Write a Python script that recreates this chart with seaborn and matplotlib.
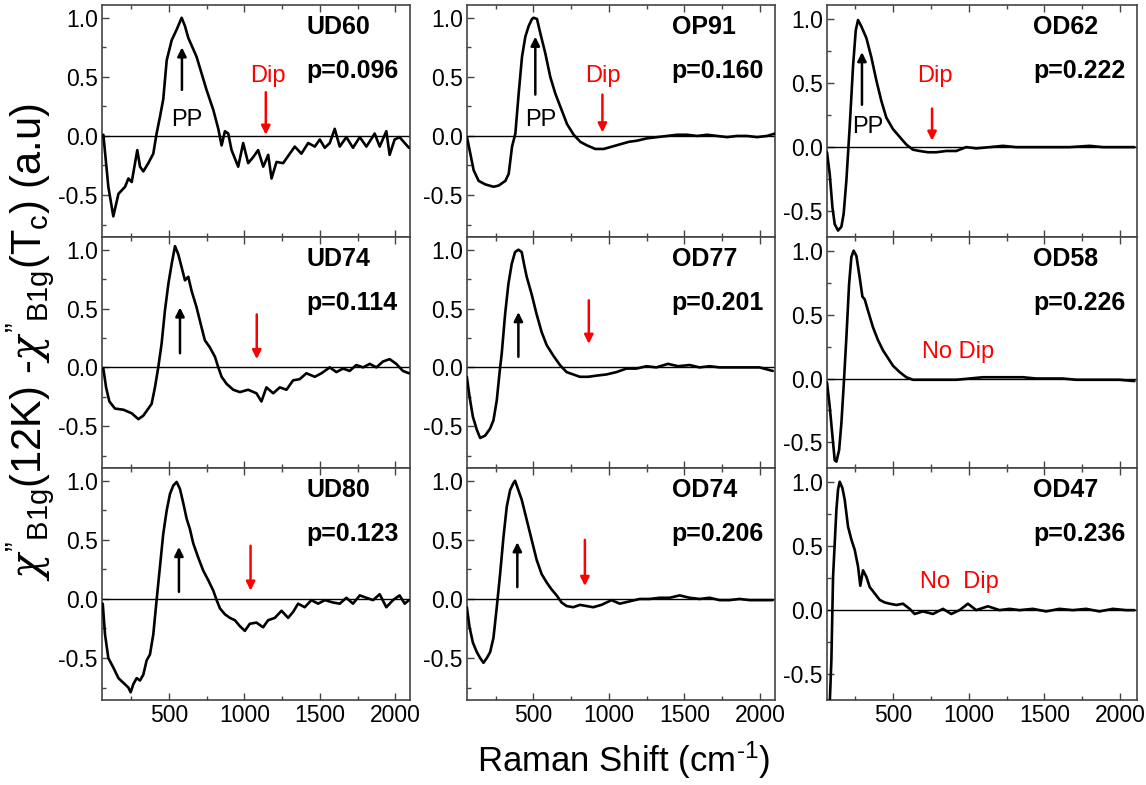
import numpy as np
import pandas as pd
import matplotlib
matplotlib.use("Agg")
import matplotlib.pyplot as plt
import seaborn as sns
from matplotlib.ticker import FixedLocator

# ---------------- data ----------------
ud60_x = [65, 98, 131, 165, 209, 231, 253, 290, 308, 330, 363, 396, 418, 440, 462, 485, 518, 551, 584, 606,
          628, 683, 716, 749, 794, 827, 849, 871, 893, 915, 959, 992, 1025, 1058, 1091, 1125, 1158, 1180, 1213,
          1257, 1301, 1334, 1378, 1423, 1467, 1500, 1533, 1566, 1599, 1632, 1676, 1720, 1765, 1809, 1864, 1897,
          1941, 1963, 1996, 2029, 2063, 2091]
ud60_y = [0.01, -0.43, -0.68, -0.49, -0.43, -0.36, -0.39, -0.12, -0.26, -0.30, -0.23, -0.15, 0.02, 0.16, 0.31,
          0.64, 0.81, 0.90, 1.00, 0.93, 0.83, 0.67, 0.53, 0.39, 0.22, 0.06, -0.08, 0.04, 0.02, -0.12, -0.26,
          -0.06, -0.23, -0.18, -0.12, -0.26, -0.16, -0.36, -0.22, -0.23, -0.15, -0.09, -0.15, -0.06, -0.09,
          -0.03, -0.10, -0.06, 0.06, -0.09, -0.01, -0.10, -0.01, -0.09, 0.02, -0.09, 0.04, -0.16, -0.03, -0.01,
          -0.06, -0.10]

op91_x = [61, 83, 105, 138, 182, 237, 270, 315, 337, 359, 381, 403, 425, 447, 469, 491, 502, 524, 546, 579,
          612, 645, 678, 723, 767, 811, 855, 910, 966, 1021, 1076, 1131, 1186, 1253, 1319, 1385, 1451, 1517,
          1584, 1650, 1716, 1782, 1848, 1914, 1980, 2046, 2098]
op91_y = [-0.01, -0.15, -0.29, -0.38, -0.41, -0.43, -0.42, -0.38, -0.32, -0.09, 0.02, 0.36, 0.67, 0.84, 0.93,
          0.99, 1.00, 0.99, 0.87, 0.70, 0.50, 0.36, 0.25, 0.10, 0.01, -0.05, -0.08, -0.11, -0.11, -0.09, -0.07,
          -0.05, -0.04, -0.02, -0.01, 0.00, 0.01, 0.01, 0.00, 0.01, 0.00, -0.01, 0.00, 0.00, -0.01, 0.00, 0.02]

od62_x = [64, 82, 100, 115, 137, 159, 174, 192, 214, 236, 254, 269, 291, 324, 357, 390, 423, 456, 500, 544,
          588, 632, 676, 731, 786, 852, 918, 984, 1050, 1138, 1226, 1314, 1402, 1490, 1578, 1666, 1798, 1886,
          1996, 2095]
od62_y = [-0.04, -0.21, -0.47, -0.60, -0.65, -0.62, -0.52, -0.26, 0.16, 0.63, 0.91, 0.99, 0.94, 0.85, 0.70,
          0.52, 0.36, 0.23, 0.14, 0.08, 0.02, -0.02, -0.03, -0.04, -0.04, -0.03, -0.03, 0.00, -0.01, 0.00,
          0.01, 0.00, 0.00, 0.00, 0.00, 0.00, 0.01, 0.00, 0.00, 0.00]

ud74_x = [65, 83, 105, 142, 198, 253, 297, 330, 363, 385, 407, 429, 451, 473, 496, 518, 540, 562, 584, 606,
          628, 650, 683, 716, 738, 771, 805, 827, 849, 882, 926, 970, 1025, 1080, 1113, 1146, 1191, 1235, 1279,
          1323, 1367, 1411, 1467, 1511, 1566, 1610, 1654, 1698, 1742, 1787, 1831, 1875, 1919, 1963, 2007, 2051,
          2091]
ud74_y = [-0.01, -0.17, -0.29, -0.35, -0.36, -0.39, -0.44, -0.41, -0.35, -0.31, -0.17, 0.00, 0.20, 0.48,
          0.71, 0.88, 1.03, 0.96, 0.85, 0.74, 0.77, 0.65, 0.51, 0.34, 0.23, 0.17, 0.09, 0.00, -0.08, -0.14,
          -0.19, -0.21, -0.19, -0.22, -0.29, -0.17, -0.22, -0.17, -0.19, -0.11, -0.10, -0.05, -0.08, -0.05,
          0.00, -0.04, -0.01, -0.03, 0.02, 0.00, 0.03, 0.00, 0.05, 0.07, 0.03, -0.03, -0.05]

od77_x = [60, 78, 100, 126, 148, 181, 214, 236, 258, 276, 291, 313, 335, 357, 379, 401, 423, 438, 456, 489,
          522, 555, 588, 632, 676, 720, 764, 808, 863, 918, 984, 1050, 1116, 1182, 1248, 1314, 1391, 1457,
          1534, 1600, 1666, 1732, 1798, 1864, 1930, 1996, 2084]
od77_y = [-0.08, -0.25, -0.42, -0.53, -0.60, -0.58, -0.52, -0.45, -0.28, -0.05, 0.12, 0.45, 0.71, 0.88, 0.98,
          1.00, 0.98, 0.88, 0.77, 0.62, 0.45, 0.30, 0.19, 0.10, 0.02, -0.04, -0.06, -0.08, -0.08, -0.07, -0.06,
          -0.04, -0.01, -0.01, 0.01, 0.00, 0.03, 0.01, 0.02, 0.00, 0.01, 0.00, 0.00, 0.00, 0.00, 0.00, -0.03]

od58_x = [64, 82, 100, 115, 126, 144, 159, 174, 192, 210, 225, 240, 258, 280, 298, 313, 335, 368, 401, 434,
          467, 500, 544, 588, 632, 698, 764, 830, 918, 1006, 1094, 1182, 1270, 1358, 1446, 1534, 1622, 1710,
          1798, 1886, 1996, 2095]
od58_y = [-0.03, -0.22, -0.45, -0.64, -0.65, -0.56, -0.35, -0.06, 0.32, 0.74, 0.95, 1.00, 0.96, 0.79, 0.64,
          0.62, 0.53, 0.40, 0.30, 0.22, 0.16, 0.10, 0.05, 0.01, -0.01, -0.01, -0.01, -0.01, -0.01, 0.00, 0.01,
          0.01, 0.01, 0.01, 0.00, 0.00, 0.00, -0.01, -0.01, -0.01, -0.01, -0.02]

ud80_x = [61, 76, 98, 131, 165, 198, 231, 246, 264, 286, 308, 330, 352, 374, 396, 418, 440, 462, 485, 507,
          529, 551, 573, 595, 617, 639, 661, 694, 727, 760, 794, 816, 838, 871, 904, 937, 970, 1003, 1036,
          1080, 1124, 1157, 1202, 1246, 1290, 1323, 1356, 1400, 1444, 1489, 1533, 1588, 1632, 1676, 1720,
          1765, 1809, 1853, 1897, 1941, 1985, 2029, 2063, 2091]
ud80_y = [-0.04, -0.30, -0.50, -0.58, -0.67, -0.71, -0.75, -0.79, -0.72, -0.67, -0.69, -0.64, -0.52, -0.47,
          -0.30, -0.01, 0.27, 0.55, 0.75, 0.89, 0.96, 0.99, 0.93, 0.81, 0.68, 0.59, 0.47, 0.35, 0.24, 0.16,
          0.07, -0.01, -0.08, -0.13, -0.16, -0.18, -0.23, -0.27, -0.21, -0.20, -0.24, -0.18, -0.16, -0.10,
          -0.16, -0.11, -0.04, -0.07, -0.01, -0.04, -0.01, -0.03, -0.04, 0.01, -0.04, 0.03, 0.01, -0.01, 0.04,
          -0.07, -0.01, 0.03, -0.04, -0.01]

od74_x = [60, 78, 100, 126, 148, 170, 192, 214, 236, 258, 280, 302, 324, 346, 368, 379, 401, 423, 456, 489,
          522, 555, 588, 621, 654, 687, 720, 764, 808, 852, 896, 951, 1017, 1072, 1138, 1204, 1270, 1336, 1402,
          1468, 1534, 1600, 1666, 1732, 1798, 1864, 1930, 1996, 2084]
od74_y = [-0.07, -0.24, -0.37, -0.45, -0.50, -0.54, -0.50, -0.45, -0.33, -0.07, 0.21, 0.52, 0.78, 0.92, 0.98,
          1.00, 0.92, 0.84, 0.67, 0.50, 0.33, 0.21, 0.14, 0.08, 0.03, -0.03, -0.06, -0.07, -0.05, -0.06, -0.07,
          -0.05, -0.01, -0.04, -0.02, 0.00, 0.00, 0.01, 0.01, 0.03, 0.01, 0.00, 0.01, -0.01, -0.01, 0.00, -0.01,
          -0.01, -0.01]

od47_x = [82, 93, 104, 115, 126, 137, 148, 166, 181, 203, 225, 247, 269, 284, 302, 324, 346, 379, 412, 445,
          478, 522, 566, 610, 643, 698, 764, 830, 885, 940, 995, 1050, 1127, 1204, 1270, 1336, 1424, 1512,
          1600, 1688, 1776, 1864, 1952, 2040, 2095]
od47_y = [-0.73, -0.39, 0.26, 0.52, 0.78, 0.94, 1.00, 0.95, 0.86, 0.65, 0.55, 0.47, 0.34, 0.19, 0.31, 0.26,
          0.18, 0.13, 0.08, 0.06, 0.05, 0.04, 0.05, 0.01, -0.03, -0.01, -0.03, 0.01, -0.03, 0.00, 0.05, 0.00,
          0.03, 0.00, 0.01, 0.00, 0.01, -0.01, 0.01, 0.00, 0.01, -0.01, 0.01, 0.00, 0.00]

sample_names = ["UD60", "OP91", "OD62", "UD74", "OD77", "OD58", "UD80", "OD74", "OD47"]
doping_labels = ["p=0.096", "p=0.160", "p=0.222", "p=0.114", "p=0.201", "p=0.226",
                 "p=0.123", "p=0.206", "p=0.236"]
# pair-peak arrow (x, tail, tip) and dip arrow (x, tail, tip); None = no arrow
pp_arrows = [(586, 0.39, 0.75), (513, 0.35, 0.84), (295, 0.33, 0.74),
             (573, 0.12, 0.51), (401, 0.09, 0.47), None,
             (566, 0.06, 0.44), (394, 0.10, 0.48), None]
dip_arrows = [(1142, 0.37, 0.01), (957, 0.35, 0.03), (758, 0.30, 0.05),
              (1082, 0.45, 0.07), (867, 0.57, 0.20), None,
              (1041, 0.45, 0.07), (841, 0.50, 0.11), None]
pp_text = [(619, 0.08), (546, 0.08), (334, 0.11)]
dip_text = [(1157, 0.46), (957, 0.46), (778, 0.51)]
nodip_text = {5: ("No Dip", 933, 0.16), 8: ("No  Dip", 940, 0.17)}

y_ticks = [-0.5, 0.0, 0.5, 1.0]
y_tick_labels = ["-0.5", "0.0", "0.5", "1.0"]
y_minor = [-0.75, -0.25, 0.25, 0.75]
x_ticks = [500, 1000, 1500, 2000]
x_tick_labels = ["500", "1000", "1500", "2000"]
x_minor = [250, 750, 1250, 1750]

series_x = [ud60_x, op91_x, od62_x, ud74_x, od77_x, od58_x, ud80_x, od74_x, od47_x]
series_y = [ud60_y, op91_y, od62_y, ud74_y, od77_y, od58_y, ud80_y, od74_y, od47_y]

# ---------------- style ----------------
sns.set_theme(style="ticks")
plt.rcParams["font.family"] = ["Liberation Sans", "DejaVu Sans"]
plt.rcParams["text.color"] = "black"
plt.rcParams["axes.labelcolor"] = "black"
plt.rcParams["mathtext.fontset"] = "custom"
plt.rcParams["mathtext.rm"] = "Liberation Sans"
plt.rcParams["mathtext.it"] = "DejaVu Serif:italic"
plt.rcParams["mathtext.bf"] = "Liberation Sans:bold"

W, H = 1146, 785
fig = plt.figure(figsize=(W / 100, H / 100), dpi=100)

col_px = [(102, 410), (467, 775), (827, 1137)]
row_px = [(5, 237), (237, 468), (468, 700)]
col_xlim = [(56, 2098), (61, 2099), (64, 2112)]
col_ylim = [(-0.855, 1.108), (-0.855, 1.108), (-0.70, 1.107)]
spine_c = "#444444"

for i in range(9):
    r, c = divmod(i, 3)
    x0, x1 = col_px[c]
    y0, y1 = row_px[r]
    ax = fig.add_axes([x0 / W, 1 - y1 / H, (x1 - x0) / W, (y1 - y0) / H])
    df = pd.DataFrame({"shift": series_x[i], "chi": series_y[i]})
    ax.axhline(0, color="black", lw=1.0, zorder=1)
    sns.lineplot(data=df, x="shift", y="chi", ax=ax, color="black", lw=1.9, sort=False, zorder=3)
    ax.set_xlim(*col_xlim[c])
    ax.set_ylim(*col_ylim[c])
    ax.set_xlabel("")
    ax.set_ylabel("")
    ax.yaxis.set_major_locator(FixedLocator(y_ticks))
    ax.set_yticklabels(y_tick_labels)
    ax.yaxis.set_minor_locator(FixedLocator(y_minor))
    ax.xaxis.set_major_locator(FixedLocator(x_ticks))
    ax.xaxis.set_minor_locator(FixedLocator(x_minor))
    if r == 2:
        ax.set_xticklabels(x_tick_labels)
    else:
        ax.set_xticklabels([])
    ax.tick_params(which="both", direction="in", top=True, right=False, colors=spine_c,
                   labelcolor="black", labelsize=16.5, width=1.0)
    ax.tick_params(which="major", length=5, pad=3)
    ax.tick_params(which="minor", length=3)
    for s in ax.spines.values():
        s.set_color(spine_c)
        s.set_linewidth(1.2)
        s.set_visible(True)

    ax.text(0.665, 0.905, sample_names[i], transform=ax.transAxes, fontsize=18,
            fontweight="bold", ha="left", va="center", color="black")
    ax.text(0.665, 0.715, doping_labels[i], transform=ax.transAxes, fontsize=18,
            fontweight="bold", ha="left", va="center", color="black")

    if pp_arrows[i] is not None:
        xa, t0, t1 = pp_arrows[i]
        ax.annotate("", xy=(xa, t1), xytext=(xa, t0),
                    arrowprops=dict(arrowstyle="-|>", color="black", lw=1.8,
                                    mutation_scale=13, shrinkA=0, shrinkB=0), zorder=4)
    if dip_arrows[i] is not None:
        xa, t0, t1 = dip_arrows[i]
        ax.annotate("", xy=(xa, t1), xytext=(xa, t0),
                    arrowprops=dict(arrowstyle="-|>", color="red", lw=1.8,
                                    mutation_scale=13, shrinkA=0, shrinkB=0), zorder=4)
    if r == 0:
        ax.text(pp_text[c][0], pp_text[c][1], "PP", fontsize=17, ha="center", va="baseline")
        ax.text(dip_text[c][0], dip_text[c][1], "Dip", fontsize=17, ha="center",
                va="baseline", color="red")
    if i in nodip_text:
        t, xt, yt = nodip_text[i]
        ax.text(xt, yt, t, fontsize=17, ha="center", va="baseline", color="red")

fig.text(624 / W, 1 - 760 / H, r"Raman Shift (cm$^{\mathrm{‐1}}$)", fontsize=25,
         ha="center", va="center", color="black")
fig.text(30 / W, 1 - 342 / H,
         r"$\chi^{\mathrm{”}}{}_{\mathrm{B1g}}$(12K) -$\chi^{\mathrm{”}}{}_{\mathrm{B1g}}$(T$_{\mathrm{c}}$) (a.u)",
         fontsize=30, rotation=90, ha="center", va="center", color="black")

fig.savefig("out.png", dpi=100)
